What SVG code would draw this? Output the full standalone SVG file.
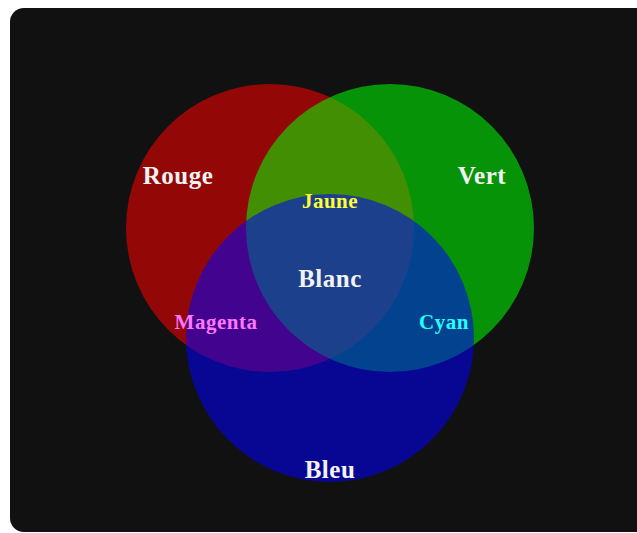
<svg xmlns="http://www.w3.org/2000/svg" width="637" height="533" viewBox="0 0 637 533">
<style>
.c{opacity:0.55}
text{font-family:"Liberation Serif","DejaVu Serif",serif;font-weight:bold;text-anchor:middle;letter-spacing:0.5px}
.big{font-size:25px;fill:#f2f2f2}
.small{font-size:21px}
</style>
<rect width="637" height="533" fill="#ffffff"/>
<rect x="10" y="8" width="640" height="524" rx="14" fill="#111111"/>
<g id="rouge"><circle class="c" cx="270" cy="228" r="144" fill="#ff0000"/></g>
<g id="vert"><circle class="c" cx="390" cy="228" r="144" fill="#00ff00"/></g>
<g id="bleu"><circle class="c" cx="330" cy="338" r="144" fill="#0000ff"/></g>
<g id="labels">
<text class="big" x="178" y="184">Rouge</text>
<text class="big" x="482" y="184">Vert</text>
<text class="small" x="330" y="208" fill="#ffff33">Jaune</text>
<text class="big" x="330" y="287">Blanc</text>
<text class="small" x="216" y="329" fill="#ff77ff">Magenta</text>
<text class="small" x="444" y="329" fill="#22ffff">Cyan</text>
<text class="big" x="330" y="478">Bleu</text>
</g>
</svg>
